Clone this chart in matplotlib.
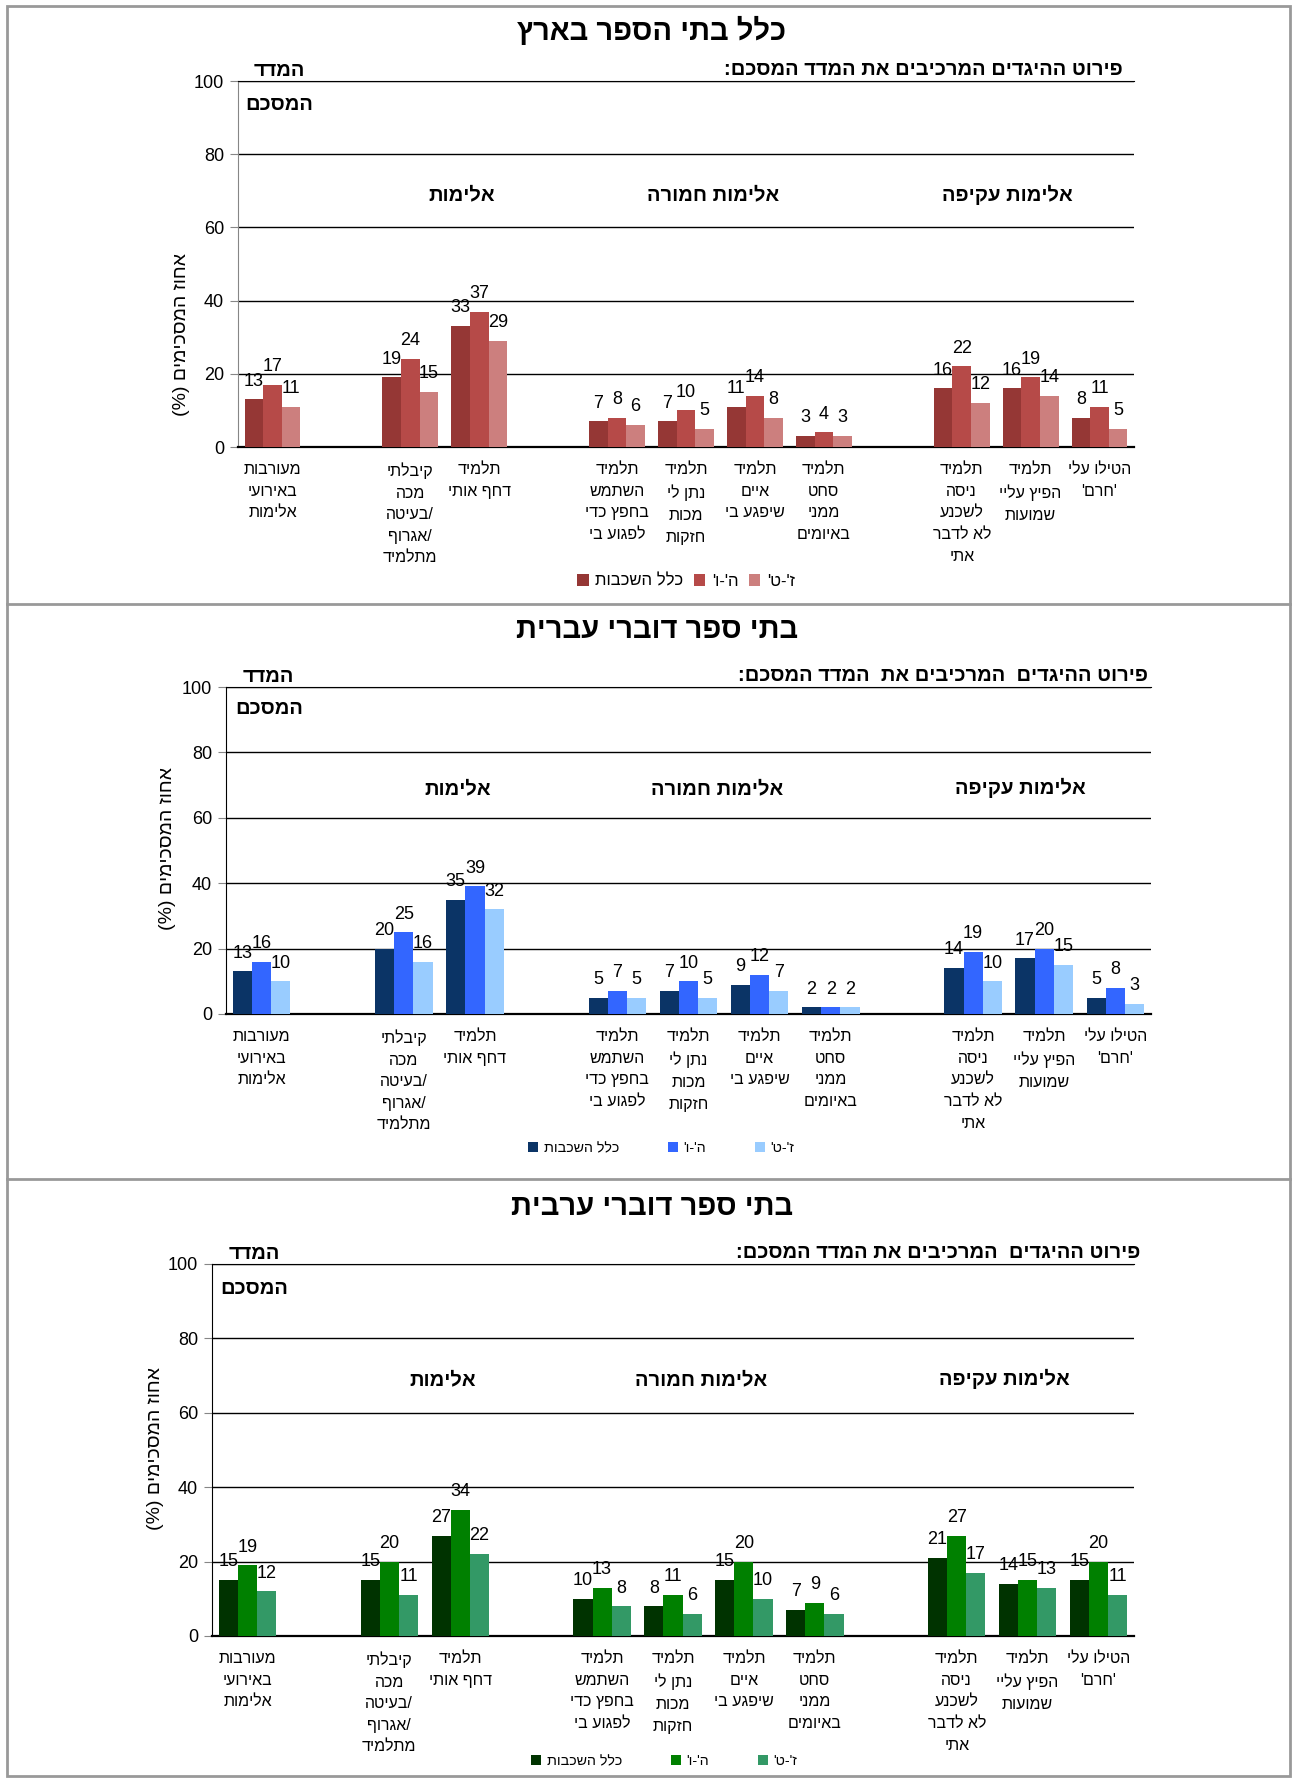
import numpy as np
import matplotlib
matplotlib.use("Agg")
import matplotlib.pyplot as plt
from matplotlib.patches import Rectangle
from matplotlib.lines import Line2D

plt.rcParams['font.family'] = ['Liberation Sans', 'DejaVu Sans']

W, H = 1293, 1778

# category labels (logical order, one entry per line), [] = empty slot
categories = [
    ["מעורבות", "באירועי", "אלימות"],
    [],
    ["קיבלתי", "מכה", "/בעיטה", "/אגרוף", "מתלמיד"],
    ["תלמיד", "דחף אותי"],
    [],
    ["תלמיד", "השתמש", "בחפץ כדי", "לפגוע בי"],
    ["תלמיד", "נתן לי", "מכות", "חזקות"],
    ["תלמיד", "איים", "שיפגע בי"],
    ["תלמיד", "סחט", "ממני", "באיומים"],
    [],
    ["תלמיד", "ניסה", "לשכנע", "לא לדבר", "אתי"],
    ["תלמיד", "הפיץ עליי", "שמועות"],
    ["הטילו עלי", "'חרם'"],
]
group_names = ["אלימות", "אלימות חמורה", "אלימות עקיפה"]
series_names = ["כלל השכבות", "ה'-ו'", "ז'-ט'"]

titles = ["כלל בתי הספר בארץ", "בתי ספר דוברי עברית", "בתי ספר דוברי ערבית"]
subheads = ["פירוט ההיגדים המרכיבים את המדד המסכם:",
            "פירוט ההיגדים  המרכיבים את  המדד המסכם:",
            "פירוט ההיגדים  המרכיבים את המדד המסכם:"]
ylabel = "אחוז המסכימים (%)"

all_total = [13, None, 19, 33, None, 7, 7, 11, 3, None, 16, 16, 8]
all_g56 = [17, None, 24, 37, None, 8, 10, 14, 4, None, 22, 19, 11]
all_g79 = [11, None, 15, 29, None, 6, 5, 8, 3, None, 12, 14, 5]

heb_total = [13, None, 20, 35, None, 5, 7, 9, 2, None, 14, 17, 5]
heb_g56 = [16, None, 25, 39, None, 7, 10, 12, 2, None, 19, 20, 8]
heb_g79 = [10, None, 16, 32, None, 5, 5, 7, 2, None, 10, 15, 3]

arab_total = [15, None, 15, 27, None, 10, 8, 15, 7, None, 21, 14, 15]
arab_g56 = [19, None, 20, 34, None, 13, 11, 20, 9, None, 27, 15, 20]
arab_g79 = [12, None, 11, 22, None, 8, 6, 10, 6, None, 17, 13, 11]

colors = [["#953735", "#B64A48", "#CC7F7E"],
          ["#0B3466", "#3366FF", "#99CCFF"],
          ["#003300", "#008000", "#339966"]]


def heb(s):
    # matplotlib has no bidi: flip hebrew strings to visual order
    return s[::-1].translate(str.maketrans("()", ")("))


def px(l, t, r, b):
    return [l / W, 1 - b / H, (r - l) / W, (b - t) / H]


fig = plt.figure(figsize=(W / 100, H / 100), dpi=100)

# page frame and panel separators
fig.add_artist(Rectangle((7 / W, 2 / H), (1290 - 7) / W, (1776 - 2 - 4) / H,
                         transform=fig.transFigure, fill=False,
                         edgecolor="#999999", lw=2))
for yy in (604, 1179):
    fig.add_artist(Line2D([7 / W, 1290 / W], [1 - yy / H, 1 - yy / H],
                          transform=fig.transFigure, color="#999999", lw=2))

panels = [
    dict(series=[all_total, all_g56, all_g79], box=(238, 81, 1134, 447),
         title=(652, 31), sub=1123, ylab=(181, 334), leg=(686, 581),
         legfs=12, colsp=0.6, spine="#868686"),
    dict(series=[heb_total, heb_g56, heb_g79], box=(226, 687, 1151, 1014),
         title=(657, 630), sub=1148, ylab=(168, 849), leg=(661, 1148),
         legfs=10.3, colsp=3.4, spine="black"),
    dict(series=[arab_total, arab_g56, arab_g79], box=(212, 1264, 1134, 1636),
         title=(652, 1207), sub=1140, ylab=(156, 1448), leg=(664, 1761),
         legfs=10.3, colsp=3.4, spine="black"),
]

narrow = ['Liberation Sans Narrow', 'Liberation Sans', 'DejaVu Sans']
x = np.arange(len(categories))
width = 0.27
leg_labels = [heb(s) for s in series_names]

for p, (cfg, cols) in enumerate(zip(panels, colors)):
    l, t, r, b = cfg["box"]
    ax = fig.add_axes(px(l, t, r, b))
    handles = []
    for i, vals in enumerate(cfg["series"]):
        v = np.array([np.nan if a is None else a for a in vals], dtype=float)
        bars = ax.bar(x + (i - 1) * width, v, width, color=cols[i], zorder=3)
        ax.bar_label(bars, labels=["" if np.isnan(a) else f"{a:.0f}" for a in v],
                     padding=7, fontsize=13)
        handles.append(bars)

    ax.set_xlim(-0.5, len(categories) - 0.5)
    ax.set_ylim(0, 100)
    ax.set_yticks(range(0, 101, 20))
    ax.yaxis.grid(True, color="black", lw=1)
    ax.set_axisbelow(True)
    ax.set_xticks(x)
    ax.set_xticklabels(["\n".join(heb(s) for s in c) for c in categories],
                       fontsize=11.5, linespacing=1.55, va="top")
    ax.tick_params(axis="x", length=0, pad=11)
    ax.tick_params(axis="y", length=6, color="#868686", labelsize=13, pad=4)
    ax.spines["right"].set_visible(False)
    ax.spines["top"].set_color("black")
    ax.spines["left"].set_color(cfg["spine"])
    ax.spines["bottom"].set_linewidth(1.6)

    # group headers
    for gx, name in zip([2.75, 6.4, 10.67], group_names):
        ax.text(gx, 69, heb(name), ha="center", va="center", fontsize=14.5,
                family=narrow, weight="bold")
    ax.text(0.1, 100.4, heb("המדד"), ha="center", va="bottom", fontsize=14.5,
            family=narrow, weight="bold")
    ax.text(0.1, 93.5, heb("המסכם"), ha="center", va="center", fontsize=14.5,
            family=narrow, weight="bold")

    tx, ty = cfg["title"]
    fig.text(tx / W, 1 - ty / H, heb(titles[p]), ha="center", va="center",
             fontsize=21, family=narrow, weight="bold")
    fig.text(cfg["sub"] / W, 1 - (t - 2) / H, heb(subheads[p]), ha="right",
             va="bottom", fontsize=14.5, family=narrow, weight="bold")
    yx, yy = cfg["ylab"]
    fig.text(yx / W, 1 - yy / H, heb(ylabel), rotation=90, ha="center",
             va="center", fontsize=14)
    lx, ly = cfg["leg"]
    fig.legend(handles, leg_labels, loc="center",
               bbox_to_anchor=(lx / W, 1 - ly / H), ncol=3, frameon=False,
               fontsize=cfg["legfs"], handlelength=0.7, handleheight=0.7,
               handletextpad=0.4, columnspacing=cfg["colsp"])

fig.savefig("out.png", dpi=100)
